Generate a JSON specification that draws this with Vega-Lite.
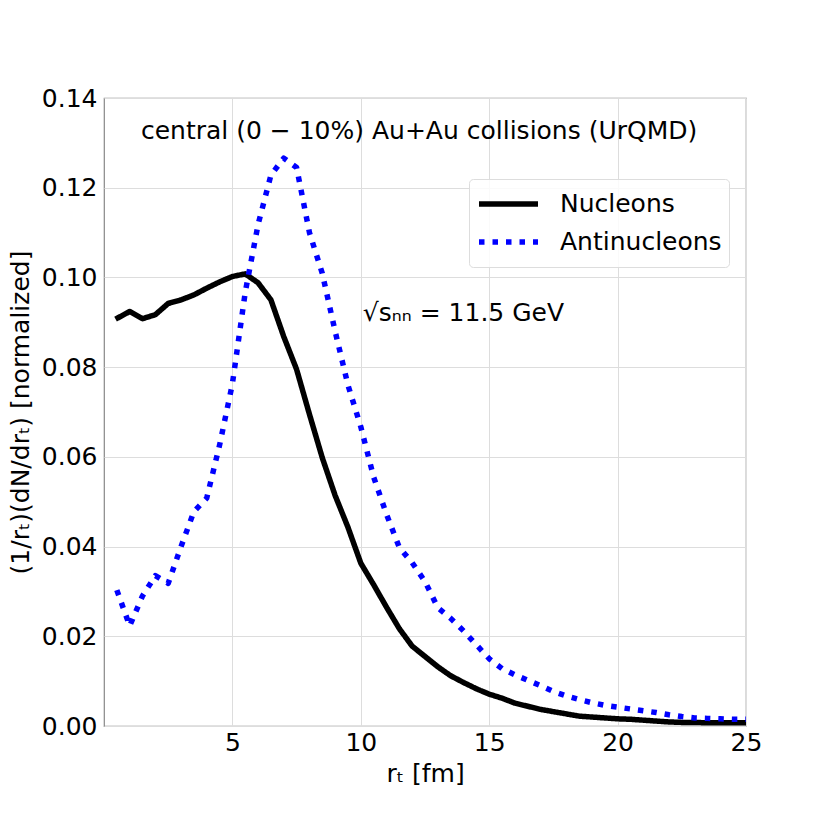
{
  "$schema": "https://vega.github.io/schema/vega-lite/v6.json",
  "width": 642,
  "height": 628,
  "autosize": {"type": "none"},
  "padding": {"left": 104, "top": 98, "right": 84, "bottom": 104},
  "background": "white",
  "config": {
    "font": "DejaVu Sans",
    "view": {"stroke": "#888888", "strokeWidth": 1.2},
    "axis": {
      "grid": true,
      "gridColor": "#dddddd",
      "gridWidth": 1,
      "ticks": false,
      "domain": false,
      "labelFlush": false,
      "labelFont": "DejaVu Sans",
      "labelFontSize": 25,
      "labelColor": "black",
      "titleFont": "DejaVu Sans",
      "titleFontSize": 25,
      "titleFontWeight": "normal",
      "titleColor": "black"
    },
    "legend": {
      "orient": "none",
      "legendX": 365,
      "legendY": 81,
      "symbolType": "stroke",
      "symbolSize": 3481,
      "symbolStrokeWidth": 5.5,
      "clipHeight": 36,
      "labelFont": "DejaVu Sans",
      "labelFontSize": 25,
      "labelColor": "black",
      "labelOffset": 19,
      "labelLimit": 400,
      "rowPadding": 2,
      "padding": 7,
      "fillColor": "rgba(255,255,255,0.85)",
      "strokeColor": "#dddddd",
      "cornerRadius": 4
    }
  },
  "layer": [
    {
      "data": {
        "values": [
          {"r": 0.45, "v": 0.0907, "s": "Nucleons"},
          {"r": 1.0, "v": 0.0924, "s": "Nucleons"},
          {"r": 1.5, "v": 0.0908, "s": "Nucleons"},
          {"r": 2.0, "v": 0.0917, "s": "Nucleons"},
          {"r": 2.5, "v": 0.0942, "s": "Nucleons"},
          {"r": 3.0, "v": 0.0950, "s": "Nucleons"},
          {"r": 3.5, "v": 0.0961, "s": "Nucleons"},
          {"r": 4.0, "v": 0.0976, "s": "Nucleons"},
          {"r": 4.5, "v": 0.0990, "s": "Nucleons"},
          {"r": 5.0, "v": 0.1002, "s": "Nucleons"},
          {"r": 5.5, "v": 0.1008, "s": "Nucleons"},
          {"r": 6.0, "v": 0.0988, "s": "Nucleons"},
          {"r": 6.5, "v": 0.0950, "s": "Nucleons"},
          {"r": 7.0, "v": 0.0868, "s": "Nucleons"},
          {"r": 7.5, "v": 0.0795, "s": "Nucleons"},
          {"r": 8.0, "v": 0.0695, "s": "Nucleons"},
          {"r": 8.5, "v": 0.0598, "s": "Nucleons"},
          {"r": 9.0, "v": 0.0514, "s": "Nucleons"},
          {"r": 9.5, "v": 0.0443, "s": "Nucleons"},
          {"r": 10.0, "v": 0.0363, "s": "Nucleons"},
          {"r": 10.5, "v": 0.0315, "s": "Nucleons"},
          {"r": 11.0, "v": 0.0265, "s": "Nucleons"},
          {"r": 11.5, "v": 0.0217, "s": "Nucleons"},
          {"r": 12.0, "v": 0.0178, "s": "Nucleons"},
          {"r": 12.5, "v": 0.0155, "s": "Nucleons"},
          {"r": 13.0, "v": 0.0132, "s": "Nucleons"},
          {"r": 13.5, "v": 0.0112, "s": "Nucleons"},
          {"r": 14.0, "v": 0.0097, "s": "Nucleons"},
          {"r": 14.5, "v": 0.0083, "s": "Nucleons"},
          {"r": 15.0, "v": 0.0071, "s": "Nucleons"},
          {"r": 15.5, "v": 0.0062, "s": "Nucleons"},
          {"r": 16.0, "v": 0.0051, "s": "Nucleons"},
          {"r": 16.5, "v": 0.0044, "s": "Nucleons"},
          {"r": 17.0, "v": 0.0037, "s": "Nucleons"},
          {"r": 17.5, "v": 0.0032, "s": "Nucleons"},
          {"r": 18.0, "v": 0.0027, "s": "Nucleons"},
          {"r": 18.5, "v": 0.0022, "s": "Nucleons"},
          {"r": 19.0, "v": 0.0020, "s": "Nucleons"},
          {"r": 19.5, "v": 0.0018, "s": "Nucleons"},
          {"r": 20.0, "v": 0.0016, "s": "Nucleons"},
          {"r": 20.5, "v": 0.0015, "s": "Nucleons"},
          {"r": 21.0, "v": 0.0013, "s": "Nucleons"},
          {"r": 21.5, "v": 0.0011, "s": "Nucleons"},
          {"r": 22.0, "v": 0.0009, "s": "Nucleons"},
          {"r": 22.5, "v": 0.0008, "s": "Nucleons"},
          {"r": 23.0, "v": 0.0008, "s": "Nucleons"},
          {"r": 23.5, "v": 0.0007, "s": "Nucleons"},
          {"r": 24.0, "v": 0.0007, "s": "Nucleons"},
          {"r": 24.5, "v": 0.0007, "s": "Nucleons"},
          {"r": 25.0, "v": 0.0007, "s": "Nucleons"},
          {"r": 0.5, "v": 0.0303, "s": "Antinucleons"},
          {"r": 1.0, "v": 0.0223, "s": "Antinucleons"},
          {"r": 1.5, "v": 0.0290, "s": "Antinucleons"},
          {"r": 2.0, "v": 0.0335, "s": "Antinucleons"},
          {"r": 2.5, "v": 0.0318, "s": "Antinucleons"},
          {"r": 3.0, "v": 0.0400, "s": "Antinucleons"},
          {"r": 3.5, "v": 0.0478, "s": "Antinucleons"},
          {"r": 4.0, "v": 0.0508, "s": "Antinucleons"},
          {"r": 4.5, "v": 0.0626, "s": "Antinucleons"},
          {"r": 5.0, "v": 0.0763, "s": "Antinucleons"},
          {"r": 5.5, "v": 0.0967, "s": "Antinucleons"},
          {"r": 6.0, "v": 0.1118, "s": "Antinucleons"},
          {"r": 6.5, "v": 0.1228, "s": "Antinucleons"},
          {"r": 7.0, "v": 0.1266, "s": "Antinucleons"},
          {"r": 7.5, "v": 0.1245, "s": "Antinucleons"},
          {"r": 8.0, "v": 0.1100, "s": "Antinucleons"},
          {"r": 8.5, "v": 0.1009, "s": "Antinucleons"},
          {"r": 9.0, "v": 0.0880, "s": "Antinucleons"},
          {"r": 9.5, "v": 0.0760, "s": "Antinucleons"},
          {"r": 10.0, "v": 0.0667, "s": "Antinucleons"},
          {"r": 10.5, "v": 0.0555, "s": "Antinucleons"},
          {"r": 11.0, "v": 0.0472, "s": "Antinucleons"},
          {"r": 11.5, "v": 0.0398, "s": "Antinucleons"},
          {"r": 12.0, "v": 0.0364, "s": "Antinucleons"},
          {"r": 12.5, "v": 0.0322, "s": "Antinucleons"},
          {"r": 13.0, "v": 0.0264, "s": "Antinucleons"},
          {"r": 13.5, "v": 0.0240, "s": "Antinucleons"},
          {"r": 14.0, "v": 0.0212, "s": "Antinucleons"},
          {"r": 14.5, "v": 0.0181, "s": "Antinucleons"},
          {"r": 15.0, "v": 0.0150, "s": "Antinucleons"},
          {"r": 15.5, "v": 0.0128, "s": "Antinucleons"},
          {"r": 16.0, "v": 0.0114, "s": "Antinucleons"},
          {"r": 16.5, "v": 0.0102, "s": "Antinucleons"},
          {"r": 17.0, "v": 0.0090, "s": "Antinucleons"},
          {"r": 17.5, "v": 0.0077, "s": "Antinucleons"},
          {"r": 18.0, "v": 0.0067, "s": "Antinucleons"},
          {"r": 18.5, "v": 0.0059, "s": "Antinucleons"},
          {"r": 19.0, "v": 0.0052, "s": "Antinucleons"},
          {"r": 19.5, "v": 0.0046, "s": "Antinucleons"},
          {"r": 20.0, "v": 0.0042, "s": "Antinucleons"},
          {"r": 20.5, "v": 0.0038, "s": "Antinucleons"},
          {"r": 21.0, "v": 0.0034, "s": "Antinucleons"},
          {"r": 21.5, "v": 0.0030, "s": "Antinucleons"},
          {"r": 22.0, "v": 0.0025, "s": "Antinucleons"},
          {"r": 22.5, "v": 0.0021, "s": "Antinucleons"},
          {"r": 23.0, "v": 0.0018, "s": "Antinucleons"},
          {"r": 23.5, "v": 0.0017, "s": "Antinucleons"},
          {"r": 24.0, "v": 0.0016, "s": "Antinucleons"},
          {"r": 24.5, "v": 0.0015, "s": "Antinucleons"},
          {"r": 25.0, "v": 0.0015, "s": "Antinucleons"}
        ]
      },
      "mark": {"type": "line", "strokeWidth": 5.5, "strokeCap": "butt", "strokeJoin": "round", "clip": true},
      "encoding": {
        "x": {
          "field": "r",
          "type": "quantitative",
          "scale": {"domain": [0, 25], "nice": false, "zero": false},
          "axis": {"values": [5, 10, 15, 20, 25], "title": "rₜ [fm]", "labelPadding": 4, "titlePadding": 6, "labelFlush": false}
        },
        "y": {
          "field": "v",
          "type": "quantitative",
          "scale": {"domain": [0, 0.14], "nice": false, "zero": false},
          "axis": {
            "values": [0, 0.02, 0.04, 0.06, 0.08, 0.1, 0.12, 0.14],
            "format": ".2f",
            "title": "(1/rₜ)(dN/drₜ) [normalized]",
            "labelPadding": 7,
            "titlePadding": 8
          }
        },
        "color": {
          "field": "s",
          "type": "nominal",
          "scale": {"domain": ["Nucleons", "Antinucleons"], "range": ["#000000", "#0000ff"]},
          "legend": {"title": null}
        },
        "strokeDash": {
          "field": "s",
          "type": "nominal",
          "scale": {"domain": ["Nucleons", "Antinucleons"], "range": [[1, 0], [5.5, 8]]},
          "legend": {"title": null}
        }
      }
    },
    {
      "data": {"values": [{}]},
      "mark": {
        "type": "text",
        "text": "central (0 − 10%) Au+Au collisions (UrQMD)",
        "font": "DejaVu Sans",
        "fontSize": 25,
        "align": "center",
        "baseline": "middle",
        "color": "black"
      },
      "encoding": {
        "x": {"datum": 12.27, "type": "quantitative", "scale": {"domain": [0, 25], "nice": false, "zero": false}},
        "y": {"datum": 0.1326, "type": "quantitative", "scale": {"domain": [0, 0.14], "nice": false, "zero": false}}
      }
    },
    {
      "data": {"values": [{}]},
      "mark": {
        "type": "text",
        "text": "√sₙₙ = 11.5 GeV",
        "font": "DejaVu Sans",
        "fontSize": 25,
        "align": "left",
        "baseline": "middle",
        "color": "black"
      },
      "encoding": {
        "x": {"datum": 10.08, "type": "quantitative", "scale": {"domain": [0, 25], "nice": false, "zero": false}},
        "y": {"datum": 0.0921, "type": "quantitative", "scale": {"domain": [0, 0.14], "nice": false, "zero": false}}
      }
    }
  ]
}
